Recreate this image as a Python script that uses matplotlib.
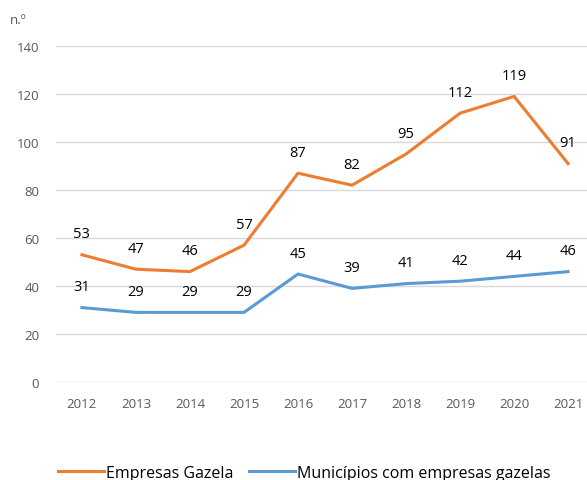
import matplotlib
matplotlib.use("Agg")
import matplotlib.pyplot as plt

years = ["2012", "2013", "2014", "2015", "2016", "2017", "2018", "2019", "2020", "2021"]
empresas = [53, 47, 46, 57, 87, 82, 95, 112, 119, 91]
municipios = [31, 29, 29, 29, 45, 39, 41, 42, 44, 46]
series_names = ["Empresas Gazela", "Municípios com empresas gazelas"]

plt.rcParams['font.family'] = ['Open Sans', 'DejaVu Sans']

fig = plt.figure(figsize=(5.87, 4.81), dpi=100)
ax = fig.add_axes([56/587, 1-383/481, 1-56/587, 336/481])

x = list(range(len(years)))
orange = "#ED7D31"
blue = "#5B9BD5"
ax.plot(x, empresas, color=orange, lw=2.2, label=series_names[0], solid_joinstyle='round')
ax.plot(x, municipios, color=blue, lw=2.2, label=series_names[1], solid_joinstyle='round')

for xi, v in zip(x, empresas):
    ax.annotate(str(v), (xi, v), xytext=(0, 15), textcoords='offset points',
                ha='center', va='center', fontsize=10.5, color='#000000', annotation_clip=False)
for xi, v in zip(x, municipios):
    ax.annotate(str(v), (xi, v), xytext=(0, 15), textcoords='offset points',
                ha='center', va='center', fontsize=10.5, color='#000000', annotation_clip=False)

ax.set_ylim(0, 140)
ax.set_yticks(range(0, 141, 20))
ax.set_xlim(-0.48, 9.35)
ax.set_xticks(x)
ax.set_xticklabels(years)
ax.grid(axis='y', color='#d9d9d9', lw=1)
ax.set_axisbelow(True)
for s in ax.spines.values():
    s.set_visible(False)
ax.tick_params(axis='both', length=0, labelsize=9.5, colors='#595959')
ax.tick_params(axis='y', pad=12)
ax.tick_params(axis='x', pad=11)

fig.text(10/587, 1-20/481, "n.º", fontsize=9.5, color='#595959', va='center', ha='left')

fig.legend(loc='center', bbox_to_anchor=(304/587, 1-474/481), ncol=2, frameon=False,
           fontsize=11.5, handlelength=2.9, handletextpad=0.1, columnspacing=1.0)

fig.savefig("out.png", dpi=100)
